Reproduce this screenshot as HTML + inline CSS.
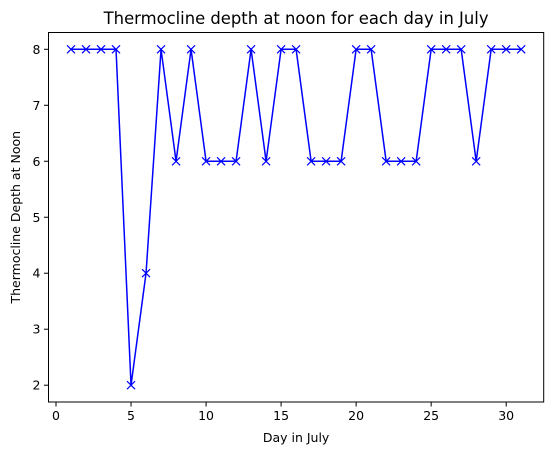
<!DOCTYPE html>
<html><head><meta charset="utf-8"><style>
body{margin:0;background:#fff;}
svg{display:block;font-family:"DejaVu Sans","Liberation Sans",sans-serif;}
</style></head><body>
<svg id="chart" width="554" height="455"></svg>
<script>
const days=[1,2,3,4,5,6,7,8,9,10,11,12,13,14,15,16,17,18,19,20,21,22,23,24,25,26,27,28,29,30,31];
const depths=[8,8,8,8,2,4,8,6,8,6,6,6,8,6,8,8,6,6,6,8,8,6,6,6,8,8,8,6,8,8,8];
const xTicks=[0,5,10,15,20,25,30];
const yTicks=[2,3,4,5,6,7,8];
const L=48.5,R=543.7,T=32.5,B=402;
const xmin=-0.5,xmax=32.5,ymin=1.7,ymax=8.3;
const sx=v=>L+(v-xmin)/(xmax-xmin)*(R-L);
const sy=v=>B-(v-ymin)/(ymax-ymin)*(B-T);
const svg=document.getElementById('chart');
const NS='http://www.w3.org/2000/svg';
function mk(tag,attrs){const e=document.createElementNS(NS,tag);for(const k in attrs)e.setAttribute(k,attrs[k]);svg.appendChild(e);return e;}
let t=mk('text',{x:(L+R)/2,y:24,'text-anchor':'middle','font-size':16.4,fill:'#000'});t.textContent='Thermocline depth at noon for each day in July';


xTicks.forEach(v=>{
 const l=mk('line',{x1:sx(v),x2:sx(v),y1:B,y2:B+4.5,stroke:'#000','stroke-width':1});
 
 
 const tx=mk('text',{x:sx(v),y:B+18,'text-anchor':'middle','font-size':12.5,fill:'#000'});tx.textContent=v;
 
 
});
yTicks.forEach(v=>{
 const l=mk('line',{x1:L-4.5,x2:L,y1:sy(v),y2:sy(v),stroke:'#000','stroke-width':1});
 
 
 const tx=mk('text',{x:L-8,y:sy(v)+4.5,'text-anchor':'end','font-size':12.5,fill:'#000'});tx.textContent=v;
 
 
});
t=mk('text',{x:(L+R)/2,y:442,'text-anchor':'middle','font-size':12.5,fill:'#000'});t.textContent='Day in July';


t=mk('text',{x:0,y:0,'text-anchor':'middle','font-size':12.5,fill:'#000',transform:`translate(20,${(T+B)/2}) rotate(-90)`});t.textContent='Thermocline Depth at Noon';


const pts=days.map((d,i)=>sx(d)+','+sy(depths[i])).join(' ');
const pl=mk('polyline',{points:pts,fill:'none',stroke:'#0000ff','stroke-width':1.5});


days.forEach((d,i)=>{
 const x=sx(d),y=sy(depths[i]),s=4;
 const p=mk('path',{d:`M${x-s},${y-s}L${x+s},${y+s}M${x-s},${y+s}L${x+s},${y-s}`,stroke:'#0000ff','stroke-width':1.2});
 
 
});
const f=mk('rect',{x:L,y:T,width:R-L,height:B-T,fill:'none',stroke:'#000','stroke-width':1});


</script>
</body></html>
